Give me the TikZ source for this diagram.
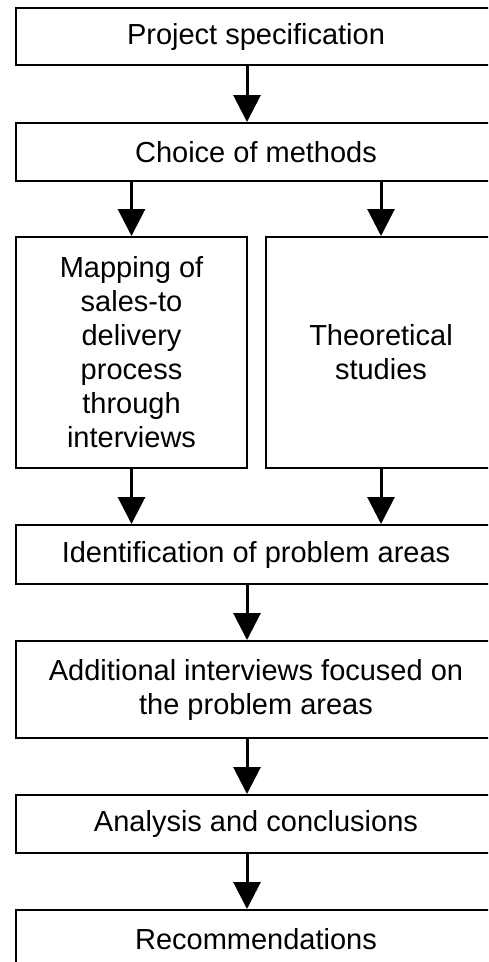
\documentclass[tikz,border=0pt]{standalone}
\usepackage{fontspec}
\setmainfont{Liberation Sans}
\usetikzlibrary{arrows.meta}

\begin{document}
\begin{tikzpicture}[x=1pt,y=-1pt,
  box/.style={draw=black, line width=2pt, fill=white, rectangle, inner sep=0pt,
    align=center, font=\fontsize{29}{34}\selectfont},
  wide/.style={box, minimum width=480pt},
  flow/.style={line width=3pt, -{Triangle[length=27pt,width=27pt]}},
]
  \useasboundingbox (0,0) rectangle (488,962);
  \clip (0,0) rectangle (488,962);

  % main column of steps
  \node[wide, minimum height=57pt] (spec)   at (256,36.5) {Project specification};
  \node[wide, minimum height=58pt] (choice) at (256,152)  {Choice of methods};

  % two parallel tracks
  \node[box, minimum width=231pt, minimum height=231pt] (mapping) at (131.5,352.5)
    {Mapping of\\sales-to\\delivery\\process\\through\\interviews};
  \node[box, minimum width=230pt, minimum height=231pt] (theory) at (381,352.5)
    {Theoretical\\studies};

  \node[wide, minimum height=59pt] (ident)   at (256,554.5) {Identification of problem areas};
  \node[wide, minimum height=97pt] (extra)   at (256,689.5)
    {Additional interviews focused on\\the problem areas};
  \node[wide, minimum height=58pt] (analysis) at (256,824)  {Analysis and conclusions};
  \node[wide, minimum height=58pt] (recs)     at (256,939)  {Recommendations};

  % connectors
  \draw[flow] ([xshift=-9pt]spec.south) -- ([xshift=-9pt]choice.north);
  \draw[flow] (choice.south -| mapping.north) -- (mapping.north);
  \draw[flow] (choice.south -| theory.north) -- (theory.north);
  \draw[flow] (mapping.south) -- (ident.north -| mapping.south);
  \draw[flow] (theory.south) -- (ident.north -| theory.south);
  \draw[flow] ([xshift=-9pt]ident.south) -- ([xshift=-9pt]extra.north);
  \draw[flow] ([xshift=-9pt]extra.south) -- ([xshift=-9pt]analysis.north);
  \draw[flow] ([xshift=-9pt]analysis.south) -- ([xshift=-9pt]recs.north);
\end{tikzpicture}
\end{document}
